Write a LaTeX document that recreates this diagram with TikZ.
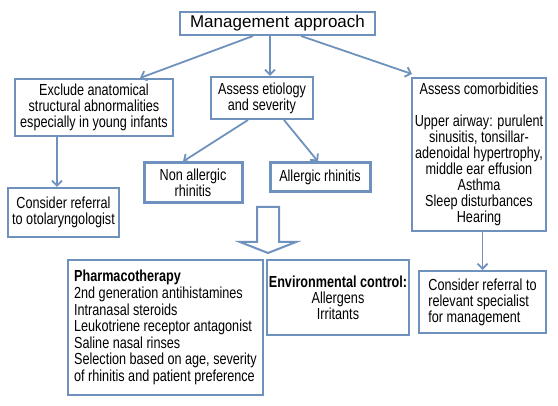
\documentclass[tikz,border=0pt]{standalone}
\usepackage{fontspec}
\setmainfont[FakeStretch=0.79]{Liberation Sans}
\newfontfamily\widesans{Liberation Sans}
\usepackage{xcolor}
\usetikzlibrary{arrows.meta}
\definecolor{boxblue}{HTML}{6E92BD}

\begin{document}
\begin{tikzpicture}[
        x=1pt, y=-1pt,
        box/.style={draw=boxblue, line width=2pt, align=center, inner sep=2pt,
                    font=\fontsize{16}{16}\selectfont},
        thickbox/.style={box, line width=3pt},
        arr/.style={draw=boxblue, line width=1.8pt, -{Straight Barb[length=5pt,width=10pt]}}
    ]
    \useasboundingbox (0,0) rectangle (558,406);

    % Top
    \node[box, minimum width=195pt, minimum height=23pt, font=\widesans\fontsize{17}{19}\selectfont]
        (mgmt) at (277.5,23.5) {Management approach};

    % Second row
    \node[box, minimum width=158pt, minimum height=57pt] (exclude) at (94,107.5)
        {Exclude anatomical\\structural abnormalities\\especially in young infants};
    \node[box, minimum width=102pt, minimum height=42pt] (etio) at (262,98)
        {Assess etiology\\and severity};
    \node[box, minimum width=134pt, minimum height=153pt] (comorb) at (479,154.5)
        {Assess comorbidities\\[16pt]Upper airway: purulent\\sinusitis, tonsillar-\\adenoidal hypertrophy,\\middle ear effusion\\Asthma\\Sleep disturbances\\Hearing};

    % Third row
    \node[box, minimum width=111pt, minimum height=49pt] (otolar) at (63.5,212.5)
        {Consider referral\\to otolaryngologist};
    \node[thickbox, minimum width=98pt, minimum height=40pt] (nonall) at (193,183)
        {Non allergic\\rhinitis};
    \node[thickbox, minimum width=100pt, minimum height=29pt] (allerg) at (320,177.5)
        {Allergic rhinitis};

    % Hollow arrow
    \draw[boxblue, line width=2pt, line join=miter]
        (257,207) -- (279,207) -- (279,242) -- (296,242) -- (268,253)
        -- (240,242) -- (257,242) -- cycle;

    % Bottom row
    \node[box, align=left, minimum width=195pt, minimum height=135pt,
          font=\fontsize{16}{16.6}\selectfont] (pharma) at (165.5,327.5)
        {\textbf{Pharmacotherapy}\\2nd generation antihistamines\\Intranasal steroids\\Leukotriene receptor antagonist\\Saline nasal rinses\\Selection based on age, severity\\of rhinitis and patient preference};
    \node[box, minimum width=130pt, minimum height=75pt] (envir) at (338,297.5)
        {\textbf{Environmental control:}\\Allergens\\Irritants};
    \node[box, align=left, minimum width=127pt, minimum height=62pt] (special) at (482.5,302)
        {Consider referral to\\relevant specialist\\for management};

    % Connections
    \draw[arr] ([xshift=-24.5pt]mgmt.south) -- ([xshift=46pt]exclude.north);
    \draw[arr] ([xshift=-7.5pt]mgmt.south) -- ([xshift=8pt]etio.north);
    \draw[arr] ([xshift=23.5pt]mgmt.south) -- ([shift={(1,-3)}]comorb.north west);
    \draw[arr] ([xshift=-37pt]exclude.south) -- ([xshift=-37pt]exclude.south |- otolar.north);
    \draw[arr] ([xshift=-14pt]etio.south) -- ([xshift=-10pt]nonall.north);
    \draw[arr] ([xshift=22pt]etio.south) -- ([xshift=-2pt]allerg.north);
    \draw[arr] (comorb.south -| special.north) -- (special.north);

\end{tikzpicture}
\end{document}
